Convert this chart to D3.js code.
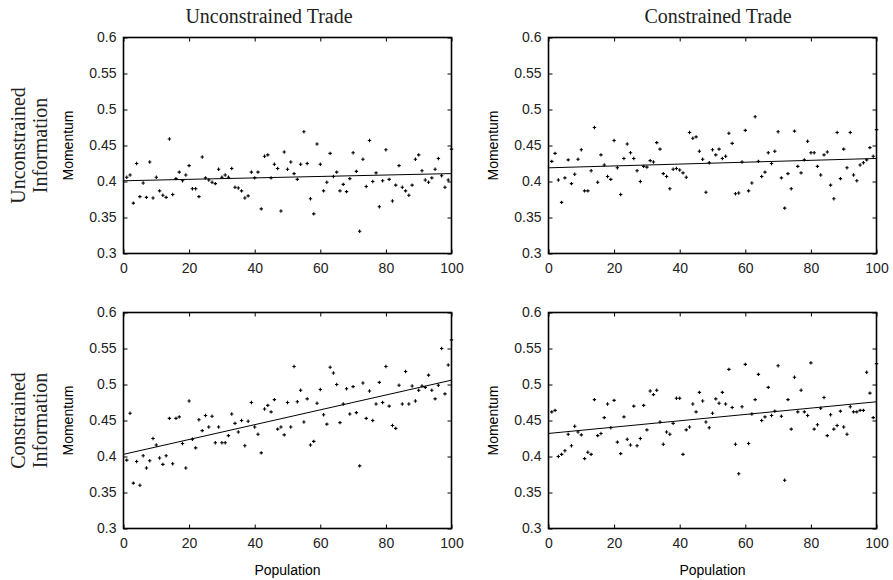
<!DOCTYPE html>
<html>
<head>
<meta charset="utf-8">
<script src="https://cdn.jsdelivr.net/npm/d3@7/dist/d3.min.js"></script>
<style>
  body { margin: 0; background: #fff; }
  .tick text { font-family: "Liberation Sans", Arial, sans-serif; font-size: 14px; fill: #222; }
</style>
</head>
<body>
<svg id="mysvg" width="893" height="580"></svg>
<script>
// population size on x, 1..100
var population = d3.range(1, 101);

// unconstrained information, unconstrained trade
var momUU = [0.406, 0.409, 0.370, 0.425, 0.379, 0.398, 0.378, 0.427, 0.377, 0.406,
  0.387, 0.381, 0.378, 0.459, 0.382, 0.404, 0.413, 0.401, 0.409, 0.422,
  0.390, 0.390, 0.379, 0.434, 0.405, 0.402, 0.399, 0.397, 0.417, 0.406,
  0.409, 0.406, 0.418, 0.392, 0.391, 0.387, 0.377, 0.380, 0.413, 0.405,
  0.413, 0.362, 0.435, 0.437, 0.405, 0.424, 0.418, 0.359, 0.441, 0.417,
  0.427, 0.411, 0.403, 0.424, 0.469, 0.425, 0.376, 0.355, 0.452, 0.424,
  0.387, 0.399, 0.439, 0.407, 0.413, 0.387, 0.396, 0.386, 0.404, 0.440,
  0.414, 0.331, 0.431, 0.393, 0.457, 0.400, 0.412, 0.365, 0.401, 0.444,
  0.403, 0.373, 0.395, 0.422, 0.392, 0.387, 0.381, 0.395, 0.431, 0.437,
  0.415, 0.402, 0.399, 0.405, 0.417, 0.432, 0.408, 0.392, 0.402, 0.445];

// unconstrained information, constrained trade
var momUC = [0.428, 0.439, 0.402, 0.371, 0.405, 0.430, 0.397, 0.410, 0.431, 0.444,
  0.387, 0.387, 0.415, 0.475, 0.399, 0.437, 0.423, 0.407, 0.403, 0.457,
  0.419, 0.382, 0.432, 0.452, 0.440, 0.432, 0.415, 0.400, 0.421, 0.420,
  0.429, 0.427, 0.454, 0.445, 0.411, 0.407, 0.390, 0.417, 0.418, 0.416,
  0.412, 0.406, 0.468, 0.460, 0.462, 0.442, 0.431, 0.385, 0.426, 0.444,
  0.437, 0.445, 0.432, 0.435, 0.467, 0.453, 0.383, 0.384, 0.427, 0.471,
  0.387, 0.398, 0.490, 0.428, 0.407, 0.413, 0.440, 0.425, 0.442, 0.469,
  0.405, 0.363, 0.411, 0.390, 0.470, 0.421, 0.412, 0.430, 0.456, 0.440,
  0.440, 0.421, 0.409, 0.437, 0.441, 0.395, 0.376, 0.468, 0.404, 0.445,
  0.419, 0.468, 0.409, 0.401, 0.423, 0.426, 0.430, 0.447, 0.435, 0.472];

// constrained information, unconstrained trade
var momCU = [0.395, 0.460, 0.363, 0.393, 0.360, 0.401, 0.384, 0.394, 0.425, 0.416,
  0.398, 0.389, 0.401, 0.453, 0.390, 0.453, 0.455, 0.418, 0.384, 0.477,
  0.424, 0.412, 0.451, 0.436, 0.457, 0.441, 0.456, 0.419, 0.441, 0.419,
  0.419, 0.429, 0.459, 0.446, 0.434, 0.450, 0.415, 0.449, 0.475, 0.441,
  0.431, 0.405, 0.466, 0.471, 0.462, 0.479, 0.438, 0.441, 0.430, 0.475,
  0.441, 0.525, 0.476, 0.492, 0.448, 0.480, 0.416, 0.421, 0.474, 0.493,
  0.458, 0.445, 0.524, 0.516, 0.500, 0.447, 0.473, 0.494, 0.459, 0.497,
  0.461, 0.387, 0.502, 0.453, 0.491, 0.450, 0.473, 0.503, 0.475, 0.525,
  0.470, 0.443, 0.439, 0.499, 0.473, 0.518, 0.473, 0.498, 0.477, 0.492,
  0.498, 0.496, 0.513, 0.492, 0.480, 0.499, 0.550, 0.487, 0.527, 0.562];

// constrained information, constrained trade
var momCC = [0.462, 0.464, 0.400, 0.403, 0.408, 0.431, 0.415, 0.442, 0.434, 0.430,
  0.397, 0.406, 0.403, 0.479, 0.429, 0.432, 0.454, 0.473, 0.440, 0.478,
  0.420, 0.404, 0.455, 0.424, 0.416, 0.470, 0.415, 0.425, 0.471, 0.437,
  0.491, 0.486, 0.492, 0.448, 0.417, 0.434, 0.431, 0.446, 0.481, 0.481,
  0.403, 0.437, 0.441, 0.473, 0.462, 0.489, 0.477, 0.448, 0.440, 0.460,
  0.480, 0.474, 0.489, 0.473, 0.521, 0.468, 0.417, 0.376, 0.469, 0.528,
  0.418, 0.459, 0.479, 0.514, 0.450, 0.455, 0.496, 0.457, 0.463, 0.526,
  0.456, 0.367, 0.479, 0.438, 0.510, 0.462, 0.492, 0.462, 0.457, 0.530,
  0.438, 0.444, 0.467, 0.482, 0.429, 0.458, 0.438, 0.443, 0.463, 0.441,
  0.431, 0.469, 0.462, 0.462, 0.464, 0.464, 0.517, 0.488, 0.454, 0.529];

// fitted line, value at population 0 and 100
var fitUU = [0.401, 0.411];
var fitUC = [0.419, 0.432];
var fitCU = [0.403, 0.506];
var fitCC = [0.432, 0.476];

var xTicks = [0, 20, 40, 60, 80, 100];
var yTicks = [0.3, 0.35, 0.4, 0.45, 0.5, 0.55, 0.6];
var colTitles = ["Unconstrained Trade", "Constrained Trade"];
var rowTitles = [["Unconstrained", "Information"], ["Constrained", "Information"]];

var w = 328, h = 216;
var colX = [123.5, 548.5];
var rowY = [37.5, 312.5];
var titleX = [269, 718];

var panels = [
  { row: 0, col: 0, values: momUU, fit: fitUU },
  { row: 0, col: 1, values: momUC, fit: fitUC },
  { row: 1, col: 0, values: momCU, fit: fitCU },
  { row: 1, col: 1, values: momCC, fit: fitCC }
];

var svg = d3.select("#mysvg");

var xScale = d3.scaleLinear().domain([0, 100]).range([0, w]);
var yScale = d3.scaleLinear().domain([0.3, 0.6]).range([h, 0]);

panels.forEach(function (p) {
  var g = svg.append("g")
    .attr("transform", "translate(" + colX[p.col] + "," + rowY[p.row] + ")");

  // inner ticks on all four sides
  g.append("g")
    .call(d3.axisLeft(yScale).tickValues(yTicks).tickSizeInner(-4).tickSizeOuter(0).tickPadding(7).tickFormat(function (d) { return String(d); }))
    .call(function (a) { a.select(".domain").remove(); });
  g.append("g")
    .attr("transform", "translate(" + w + ",0)")
    .call(d3.axisRight(yScale).tickValues(yTicks).tickSizeInner(-4).tickSizeOuter(0).tickFormat(""))
    .call(function (a) { a.select(".domain").remove(); });
  g.append("g")
    .attr("transform", "translate(0," + h + ")")
    .call(d3.axisBottom(xScale).tickValues(xTicks).tickSizeInner(-4).tickSizeOuter(0).tickPadding(10))
    .call(function (a) { a.select(".domain").remove(); });
  g.append("g")
    .call(d3.axisTop(xScale).tickValues(xTicks).tickSizeInner(-4).tickSizeOuter(0).tickFormat(""))
    .call(function (a) { a.select(".domain").remove(); });

  g.append("rect")
    .attr("width", w).attr("height", h)
    .attr("fill", "none").attr("stroke", "#000").attr("stroke-width", 1.6);

  g.append("line")
    .attr("x1", xScale(0)).attr("y1", yScale(p.fit[0]))
    .attr("x2", xScale(100)).attr("y2", yScale(p.fit[1]))
    .attr("stroke", "#000").attr("stroke-width", 1);

  g.selectAll("path.pt").data(p.values).enter().append("path")
    .attr("class", "pt")
    .attr("transform", function (d, i) { return "translate(" + xScale(population[i]) + "," + yScale(d) + ")"; })
    .attr("d", "M-1.7,0H1.7M0,-1.7V1.7")
    .attr("stroke", "#000").attr("stroke-width", 1.1);

  g.append("text")
    .attr("transform", "translate(-51," + (h / 2) + ") rotate(-90)")
    .attr("text-anchor", "middle")
    .attr("font-family", "Liberation Sans, Arial, sans-serif")
    .attr("font-size", 14)
    .text("Momentum");

  if (p.row == 1) {
    g.append("text")
      .attr("x", w / 2).attr("y", h + 46)
      .attr("text-anchor", "middle")
      .attr("font-family", "Liberation Sans, Arial, sans-serif")
      .attr("font-size", 14)
      .text("Population");
  }
});

colTitles.forEach(function (t, i) {
  svg.append("text")
    .attr("x", titleX[i]).attr("y", 23)
    .attr("text-anchor", "middle")
    .attr("font-family", "Liberation Serif, serif")
    .attr("font-size", 20)
    .attr("fill", "#222")
    .text(t);
});

rowTitles.forEach(function (lines, i) {
  lines.forEach(function (t, j) {
    svg.append("text")
      .attr("transform", "translate(" + (25 + j * 22) + "," + (rowY[i] + h / 2) + ") rotate(-90)")
      .attr("text-anchor", "middle")
      .attr("font-family", "Liberation Serif, serif")
      .attr("font-size", 20)
      .attr("fill", "#222")
      .text(t);
  });
});
</script>
</body>
</html>
